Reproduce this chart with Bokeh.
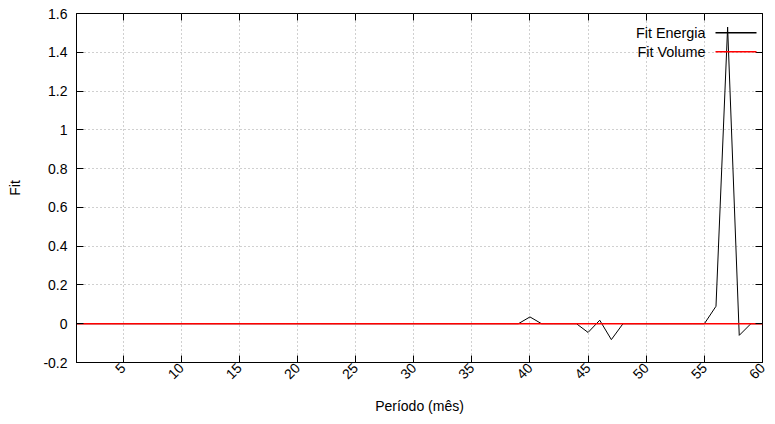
import math
from bokeh.plotting import figure
from bokeh.models import (Range1d, FixedTicker, CustomJSTickFormatter, LinearAxis,
                          Label, BoxAnnotation)
from bokeh.embed import file_html
from bokeh.resources import INLINE

months = list(range(1, 61))
fit_energia = [0, 0, 0, 0, 0, 0, 0, 0, 0, 0,
               0, 0, 0, 0, 0, 0, 0, 0, 0, 0,
               0, 0, 0, 0, 0, 0, 0, 0, 0, 0,
               0, 0, 0, 0, 0, 0, 0, 0, 0, 0.035,
               0, 0, 0, 0, -0.045, 0.018, -0.082, 0, 0, 0,
               0, 0, 0, 0, 0, 0.09, 1.53, -0.06, 0, 0]
fit_volume = [0] * 60
x_ticks = [5, 10, 15, 20, 25, 30, 35, 40, 45, 50, 55, 60]
y_ticks = [-0.2, 0, 0.2, 0.4, 0.6, 0.8, 1, 1.2, 1.4, 1.6]
series_names = ["Fit Energia", "Fit Volume"]
series_colors = ["black", "#ff0000"]

FONT = "Liberation Sans"
FS = "14px"

p = figure(width=767, height=416, output_backend="svg", toolbar_location=None,
           x_range=Range1d(1, 60), y_range=Range1d(-0.2, 1.6),
           min_border_left=76, min_border_right=5, min_border_top=13, min_border_bottom=52)
p.outline_line_color = "black"
p.outline_line_width = 1

p.line(months, fit_energia, line_color=series_colors[0], line_width=1)
p.line(months, fit_volume, line_color=series_colors[1], line_width=1.6)

p.xaxis.ticker = FixedTicker(ticks=x_ticks)
p.yaxis.ticker = FixedTicker(ticks=y_ticks)
p.yaxis.formatter = CustomJSTickFormatter(code="return String(Math.round(tick*10)/10);")
p.xaxis.major_label_orientation = math.pi / 4
p.xaxis.axis_label = "Período (mês)"
p.yaxis.axis_label = "Fit"
for ax in [p.xaxis[0], p.yaxis[0]]:
    ax.major_tick_in = 7
    ax.major_tick_out = 0
    ax.minor_tick_in = 0
    ax.minor_tick_out = 0
    ax.axis_line_color = "black"
    ax.major_tick_line_color = "black"
    ax.major_label_text_font = FONT
    ax.major_label_text_font_size = FS
    ax.major_label_text_color = "black"
    ax.axis_label_text_font = FONT
    ax.axis_label_text_font_size = FS
    ax.axis_label_text_font_style = "normal"
    ax.axis_label_text_color = "black"
p.yaxis.major_label_standoff = 9
p.yaxis.axis_label_standoff = 17
p.xaxis.major_label_standoff = 3
p.xaxis.axis_label_standoff = 11

# mirrored inward ticks on top and right (no labels)
for loc, tk in [("above", x_ticks), ("right", y_ticks)]:
    mirror = LinearAxis(ticker=FixedTicker(ticks=tk),
                        formatter=CustomJSTickFormatter(code="return '';"))
    mirror.major_tick_in = 7
    mirror.major_tick_out = 0
    mirror.minor_tick_in = 0
    mirror.minor_tick_out = 0
    mirror.major_label_standoff = 0
    mirror.axis_line_color = None
    mirror.major_tick_line_color = "black"
    mirror.major_label_text_font_size = "0px"
    p.add_layout(mirror, loc)

p.xgrid.grid_line_color = "#a0a0a0"
p.xgrid.grid_line_dash = "1 3"
p.ygrid.grid_line_color = "#a0a0a0"
p.ygrid.grid_line_dash = "1 3"

# legend (gnuplot style: text right-aligned, sample to the right); frame-relative screen units
for i, name in enumerate(series_names):
    ys = 330 - 19 * i
    p.add_layout(Label(x=629, y=ys, x_units="screen", y_units="screen", text=name,
                       text_align="right", text_baseline="middle",
                       text_font=FONT, text_font_size="14.4px", text_color="black"))
    p.add_layout(BoxAnnotation(left=639, right=680, bottom=ys - 1, top=ys + 0.5,
                               left_units="screen", right_units="screen",
                               bottom_units="screen", top_units="screen",
                               fill_color=series_colors[i], fill_alpha=1,
                               line_color=None))

open("out.html", "w").write(file_html(p, INLINE))
